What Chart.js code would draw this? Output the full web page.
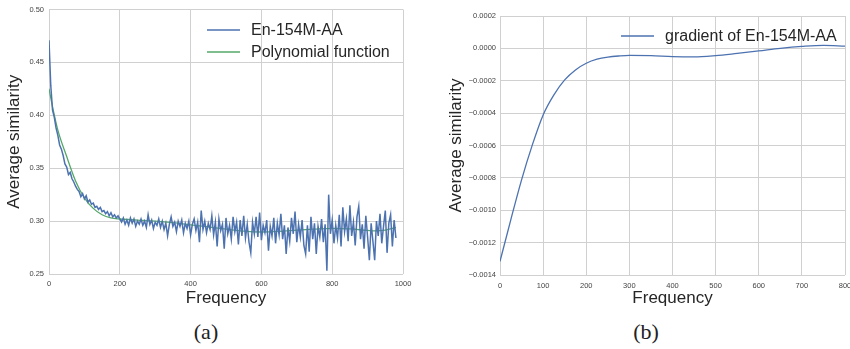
<!DOCTYPE html>
<html>
<head>
<meta charset="utf-8">
<script src="https://cdn.jsdelivr.net/npm/chart.js@4.4.1/dist/chart.umd.min.js"></script>
<style>
  html, body { margin: 0; padding: 0; background: #fff; overflow: hidden; }
  body { width: 850px; height: 349px; position: relative; }
  .box { position: absolute; }
  #boxA { left: 0; top: 0; width: 420px; height: 310px; }
  #boxB { left: 420px; top: 0; width: 450px; height: 310px; }
  .cap { position: absolute; top: 319px; font-family: "Liberation Serif", "DejaVu Serif", serif; font-size: 22px; color: #222; transform: translateX(-50%); }
</style>
</head>
<body>
<div class="box" id="boxA"><canvas id="chartA"></canvas></div>
<div class="box" id="boxB"><canvas id="chartB"></canvas></div>
<div class="cap" style="left:206px">(a)</div>
<div class="cap" style="left:646px">(b)</div>
<script>
// (a) average similarity, sampled every 5 frequency units (0..980)
var simStep = 5;
var simValues = [
  0.471, 0.428, 0.405, 0.398, 0.388, 0.381, 0.372, 0.368, 0.362, 0.354,
  0.351, 0.344, 0.346, 0.340, 0.337, 0.333, 0.330, 0.328, 0.323, 0.326,
  0.321, 0.324, 0.318, 0.320, 0.316, 0.317, 0.313, 0.314, 0.311, 0.313,
  0.309, 0.310, 0.307, 0.309, 0.305, 0.308, 0.304, 0.306, 0.303, 0.305,
  0.302, 0.299, 0.303, 0.297, 0.301, 0.296, 0.303, 0.298, 0.302, 0.295,
  0.300, 0.297, 0.302, 0.296, 0.300, 0.294, 0.306, 0.297, 0.301, 0.293,
  0.299, 0.296, 0.302, 0.294, 0.300, 0.292, 0.298, 0.286, 0.297, 0.304,
  0.295, 0.299, 0.290, 0.300, 0.295, 0.301, 0.289, 0.298, 0.293, 0.300,
  0.287, 0.297, 0.302, 0.291, 0.299, 0.280, 0.310, 0.292, 0.300, 0.289,
  0.298, 0.292, 0.305, 0.287, 0.299, 0.276, 0.302, 0.291, 0.297, 0.274,
  0.303, 0.288, 0.296, 0.283, 0.304, 0.290, 0.299, 0.278, 0.301, 0.286,
  0.305, 0.284, 0.297, 0.280, 0.270, 0.299, 0.288, 0.304, 0.285, 0.308,
  0.282, 0.296, 0.289, 0.301, 0.272, 0.295, 0.286, 0.303, 0.279, 0.298,
  0.287, 0.307, 0.283, 0.296, 0.269, 0.294, 0.281, 0.303, 0.288, 0.309,
  0.280, 0.297, 0.285, 0.301, 0.277, 0.269, 0.296, 0.271, 0.304, 0.283,
  0.298, 0.269, 0.295, 0.285, 0.302, 0.280, 0.297, 0.253, 0.325, 0.288,
  0.301, 0.279, 0.296, 0.284, 0.306, 0.276, 0.313, 0.290, 0.302, 0.281,
  0.315, 0.286, 0.299, 0.277, 0.304, 0.314, 0.283, 0.297, 0.274, 0.305,
  0.285, 0.263, 0.298, 0.281, 0.263, 0.300, 0.286, 0.307, 0.279, 0.295,
  0.310, 0.270, 0.298, 0.306, 0.276, 0.301, 0.284
];

// (a) polynomial fit
var polyFreq = [0, 10, 25, 50, 75, 100, 125, 150, 175, 200, 250, 300, 350, 400, 450, 500, 550, 600, 650, 700, 750, 800, 850, 900, 920, 950, 980];
var polyValues = [0.425, 0.408, 0.386, 0.361, 0.338, 0.322, 0.312, 0.306, 0.303, 0.302, 0.301, 0.300, 0.2985, 0.2965, 0.2945, 0.2925, 0.2905, 0.2897, 0.2903, 0.2915, 0.2925, 0.2932, 0.2926, 0.2912, 0.2908, 0.2915, 0.2940];

// (b) gradient of the polynomial
var gradFreq = [0, 25, 50, 75, 100, 125, 150, 175, 200, 225, 250, 275, 300, 350, 400, 450, 500, 550, 600, 650, 700, 750, 800];
var gradValues = [-0.001316, -0.001059, -0.000812, -0.000596, -0.000411, -0.000287, -0.000195, -0.000133, -0.000092, -0.000067, -0.000054, -0.000047, -0.000043, -0.000045, -0.000051, -0.000053, -0.000045, -0.000031, -0.000016, 0.000000, 0.000012, 0.000019, 0.000014];

var blue = '#4C72B0';
var green = '#55A868';
var gridCol = '#d0d0d0';
var tickFont = { family: 'Liberation Sans, Arial, sans-serif', size: 7.5 };
var titleFont = { family: 'Liberation Sans, Arial, sans-serif', size: 17 };

function pts(xs, ys) {
  return ys.map(function (y, i) { return { x: xs[i], y: y }; });
}
var simPoints = simValues.map(function (y, i) { return { x: i * simStep, y: y }; });

// legend drawn inside the plot area, top right
function insideLegend(x0, y0) {
  return {
    id: 'insideLegend',
    afterDraw: function (chart) {
      var c = chart.ctx;
      c.save();
      c.font = '16px "Liberation Sans", Arial, sans-serif';
      c.textBaseline = 'middle';
      chart.data.datasets.forEach(function (ds, i) {
        var y = y0 + i * 22;
        c.strokeStyle = ds.borderColor;
        c.lineWidth = 1.5;
        c.beginPath();
        c.moveTo(x0, y);
        c.lineTo(x0 + 33, y);
        c.stroke();
        c.fillStyle = '#262626';
        c.fillText(ds.label, x0 + 44, y + 1);
      });
      c.restore();
    }
  };
}

new Chart(document.getElementById('chartA'), {
  type: 'line',
  data: {
    datasets: [{
      label: 'En-154M-AA',
      data: simPoints,
      borderColor: blue,
      borderWidth: 1.5,
      pointRadius: 0,
      tension: 0
    }, {
      label: 'Polynomial function',
      data: pts(polyFreq, polyValues),
      borderColor: green,
      borderWidth: 1.3,
      pointRadius: 0,
      cubicInterpolationMode: 'monotone'
    }]
  },
  options: {
    responsive: true,
    maintainAspectRatio: false,
    animation: false,
    layout: { padding: { top: 9, right: 17, left: 0, bottom: 0 } },
    plugins: { legend: { display: false }, tooltip: { enabled: false } },
    scales: {
      x: {
        type: 'linear', min: 0, max: 1000,
        afterFit: function (s) { s.height = 36; },
        grid: { color: gridCol, drawTicks: false },
        border: { display: false },
        ticks: { stepSize: 200, color: '#444', font: tickFont, padding: 5, maxRotation: 0,
          callback: function (v) { return String(v); } },
        title: { display: true, text: 'Frequency', color: '#262626', font: titleFont, padding: { top: 0, bottom: 1 } }
      },
      y: {
        min: 0.25, max: 0.50,
        afterFit: function (s) { s.width = 49; },
        grid: { color: gridCol, drawTicks: false },
        border: { display: false },
        ticks: { stepSize: 0.05, color: '#444', font: tickFont, padding: 5,
          callback: function (v) { return v.toFixed(2); } },
        title: { display: true, text: 'Average similarity', color: '#262626', font: titleFont, padding: { top: 4, bottom: 0 } }
      }
    }
  },
  plugins: [insideLegend(207, 30)]
});

new Chart(document.getElementById('chartB'), {
  type: 'line',
  data: {
    datasets: [{
      label: 'gradient of En-154M-AA',
      data: pts(gradFreq, gradValues),
      borderColor: blue,
      borderWidth: 1.3,
      pointRadius: 0,
      cubicInterpolationMode: 'monotone'
    }]
  },
  options: {
    responsive: true,
    maintainAspectRatio: false,
    animation: false,
    layout: { padding: { top: 16, right: 25, left: 22, bottom: 0 } },
    plugins: { legend: { display: false }, tooltip: { enabled: false } },
    scales: {
      x: {
        type: 'linear', min: 0, max: 800,
        afterFit: function (s) { s.height = 35; },
        grid: { color: gridCol, drawTicks: false },
        border: { display: false },
        ticks: { stepSize: 100, color: '#444', font: tickFont, padding: 6, maxRotation: 0,
          callback: function (v) { return String(v); } },
        title: { display: true, text: 'Frequency', color: '#262626', font: titleFont, padding: { top: 0, bottom: 1 } }
      },
      y: {
        min: -0.0014, max: 0.0002,
        afterFit: function (s) { s.width = 58; },
        grid: { color: gridCol, drawTicks: false },
        border: { display: false },
        ticks: { stepSize: 0.0002, color: '#444', font: tickFont, padding: 4,
          callback: function (v) { return v.toFixed(4).replace('-', '\u2212'); } },
        title: { display: true, text: 'Average similarity', color: '#262626', font: titleFont, padding: { top: 4, bottom: 0 } }
      }
    }
  },
  plugins: [insideLegend(201, 36)]
});
</script>
</body>
</html>
